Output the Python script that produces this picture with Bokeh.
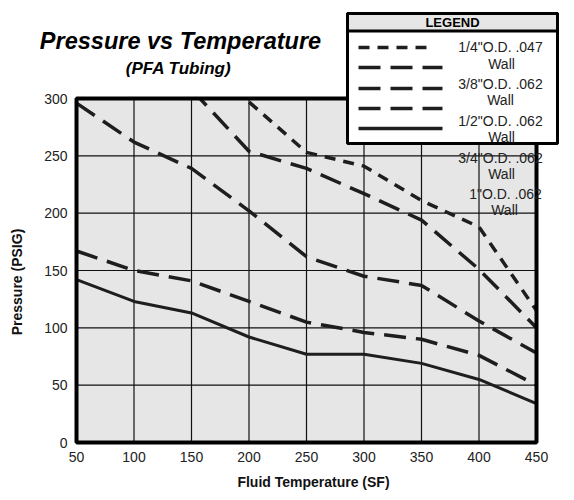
import math
from bokeh.plotting import figure
from bokeh.models import Range1d, BoxAnnotation, Label, Arrow, FixedTicker, LinearAxis
from bokeh.embed import file_html
from bokeh.resources import INLINE

nan = math.nan

# ---- data ----
temps = [50, 100, 150, 200, 250, 300, 350, 400, 450]
p_quarter = [nan, nan, 340, 297, 253, 241, 211, 188, 115]        # 1/4" O.D. .047 wall
p_three_eighths = [nan, nan, 308, 254, 239, 217, 194, 151, 100]  # 3/8" O.D. .062 wall
p_half = [296, 262, 239, 202, 162, 145, 137, 106, 78]            # 1/2" O.D. .062 wall
p_three_quarter = [167, 150, 141, 123, 105, 96, 90, 76, 50]      # 3/4" O.D. .062 wall
p_one = [142, 123, 113, 92, 77, 77, 69, 55, 34]                  # 1" O.D. .062 wall

x_ticks = [50, 100, 150, 200, 250, 300, 350, 400, 450]
y_ticks = [0, 50, 100, 150, 200, 250, 300]
x_lim = (50, 450)
y_lim = (0, 300)

legend_labels = ['1/4"O.D. .047', '3/8"O.D. .062', '1/2"O.D. .062',
                 '3/4"O.D. .062', '1"O.D. .062']
legend_second = "Wall"

FONT = "Liberation Sans"
INK = "#1e1e1e"
W, H = 572, 498

# page-pixel -> data helpers (plot rectangle: x 76..536, y 98..442)
def dx(px):
    return 50 + (px - 76) * 400.0 / 460.0

def dy(py):
    return (442 - py) * 300.0 / 344.0

p = figure(frame_width=W, frame_height=H,
           x_range=Range1d(dx(0), dx(W)), y_range=Range1d(dy(H), dy(0)),
           x_axis_location=None, y_axis_location=None, min_border=0,
           output_backend="svg", toolbar_location=None,
           background_fill_color="white", border_fill_color="white",
           outline_line_color=None)
p.title.visible = False
p.grid.visible = False

# plot area background
p.quad(left=[x_lim[0]], right=[x_lim[1]], bottom=[y_lim[0]], top=[y_lim[1]],
       fill_color="#e6e6e6", line_color=None)

# grid lines at the ticks
p.segment(x0=x_ticks[1:-1], y0=y_lim[0], x1=x_ticks[1:-1], y1=y_lim[1],
          line_color="#111111", line_width=1.2)
p.segment(x0=x_lim[0], y0=y_ticks[1:-1], x1=x_lim[1], y1=y_ticks[1:-1],
          line_color="#111111", line_width=1.2)

short_dash = "11 8"
long_dash = "22 10"

p.line(temps, p_quarter, line_color=INK, line_width=3.5, line_dash=short_dash)
p.line(temps, p_three_eighths, line_color=INK, line_width=3.5, line_dash=long_dash)
p.line(temps, p_half, line_color=INK, line_width=3.5, line_dash=long_dash)
p.line(temps, p_three_quarter, line_color=INK, line_width=3.5, line_dash=long_dash)
p.line(temps, p_one, line_color=INK, line_width=3)

# white area above the plot rectangle (hides curve parts above 300)
p.quad(left=[dx(70)], right=[dx(545)], bottom=[y_lim[1]], top=[dy(0)],
       fill_color="white", line_color=None)

# axes
xaxis = LinearAxis(fixed_location=y_lim[0], ticker=FixedTicker(ticks=x_ticks),
                   bounds=(50, 462), axis_label="Fluid Temperature (SF)")
yaxis = LinearAxis(fixed_location=x_lim[0], ticker=FixedTicker(ticks=y_ticks),
                   bounds=(-20, 300), axis_label="Pressure (PSIG)")
for ax in (xaxis, yaxis):
    ax.axis_line_color = None
    ax.major_tick_line_color = None
    ax.minor_tick_line_color = None
    ax.major_tick_in = 0
    ax.major_tick_out = 0
    ax.minor_tick_in = 0
    ax.minor_tick_out = 0
    ax.major_label_text_font = FONT
    ax.major_label_text_font_size = "14px"
    ax.major_label_text_color = "#222222"
    ax.major_label_standoff = 9
    ax.axis_label_text_font = FONT
    ax.axis_label_text_font_style = "bold"
    ax.axis_label_text_font_size = "14px"
    ax.axis_label_text_color = "#111111"
xaxis.axis_label_standoff = 9
yaxis.axis_label_standoff = 16
p.add_layout(xaxis, "below")
p.add_layout(yaxis, "left")

# plot border
p.add_layout(BoxAnnotation(left=x_lim[0], right=x_lim[1], bottom=y_lim[0], top=y_lim[1],
                           fill_color=None, fill_alpha=0,
                           line_color="black", line_width=4, line_alpha=1.0))

# ---- titles ----
p.add_layout(Label(x=dx(180), y=dy(40), text="Pressure vs Temperature",
                   text_align="center", text_baseline="middle",
                   text_font=FONT, text_font_style="bold italic",
                   text_font_size="23.5px", text_color="black"))
p.add_layout(Label(x=dx(178), y=dy(67.5), text="(PFA Tubing)",
                   text_align="center", text_baseline="middle",
                   text_font=FONT, text_font_style="bold italic",
                   text_font_size="17px", text_color="black"))

# ---- hand-made legend ----
p.add_layout(BoxAnnotation(left=dx(347), right=dx(557), top=dy(13), bottom=dy(143),
                           fill_color="white", fill_alpha=1.0,
                           line_color="black", line_width=3, line_alpha=1.0))
p.add_layout(BoxAnnotation(left=dx(347), right=dx(557), top=dy(13), bottom=dy(30.5),
                           fill_color="#e6e6e6", fill_alpha=1.0,
                           line_color="black", line_width=3, line_alpha=1.0))
p.add_layout(Label(x=dx(452), y=dy(22), text="LEGEND", text_align="center",
                   text_baseline="middle", text_font=FONT, text_font_style="bold",
                   text_font_size="13px", text_color="black"))

sample_rows = [47, 67, 88, 108, 128]
sample_dash = [short_dash, long_dash, long_dash, long_dash, "solid"]
sample_end = [433, 442, 442, 442, 442]
for yy, dash, xe in zip(sample_rows, sample_dash, sample_end):
    p.add_layout(Arrow(end=None, x_start=dx(358), y_start=dy(yy), x_end=dx(xe), y_end=dy(yy),
                       line_color=INK, line_width=3.5, line_dash=dash))

text_rows = [46.7, 83.3, 120, 157, 193]
text_cx = [500, 500, 500, 500, 505]
wall_cx = [501, 500, 501, 501, 504]
for lab, yy, cx, wx in zip(legend_labels, text_rows, text_cx, wall_cx):
    p.add_layout(Label(x=dx(cx), y=dy(yy), text=lab, text_align="center",
                       text_baseline="middle", text_font=FONT,
                       text_font_size="14px", text_color="#222222"))
    p.add_layout(Label(x=dx(wx), y=dy(yy + 16.5), text=legend_second, text_align="center",
                       text_baseline="middle", text_font=FONT,
                       text_font_size="14px", text_color="#222222"))

open("out.html", "w").write(file_html(p, INLINE))
